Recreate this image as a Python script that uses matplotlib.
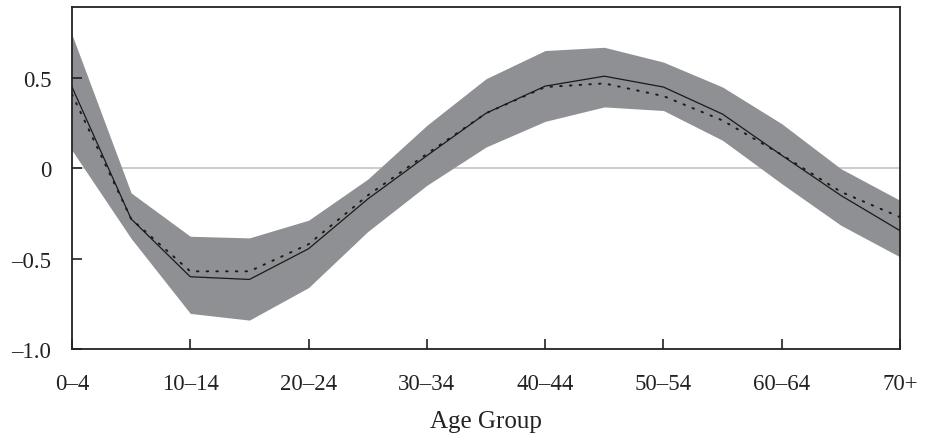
import matplotlib
matplotlib.use("Agg")
import matplotlib.pyplot as plt
import numpy as np

age_groups = ["0–4", "5–9", "10–14", "15–19", "20–24", "25–29", "30–34", "35–39",
              "40–44", "45–49", "50–54", "55–59", "60–64", "65–69", "70+"]
estimate = [0.45, -0.28, -0.60, -0.615, -0.445, -0.17, 0.07, 0.305,
            0.455, 0.51, 0.45, 0.30, 0.072, -0.15, -0.345]
alt_estimate = [0.41, -0.28, -0.57, -0.57, -0.42, -0.15, 0.08, 0.305,
                0.45, 0.47, 0.40, 0.265, 0.075, -0.13, -0.27]
band_upper = [0.74, -0.136, -0.376, -0.385, -0.287, -0.06, 0.238, 0.496,
              0.652, 0.67, 0.588, 0.45, 0.247, -0.002, -0.177]
band_lower = [0.10, -0.388, -0.803, -0.84, -0.66, -0.35, -0.094, 0.118,
              0.26, 0.34, 0.32, 0.155, -0.085, -0.315, -0.49]
y_ticks = [-1.0, -0.5, 0, 0.5]
y_tick_labels = ["–1.0", "–0.5", "0", "0.5"]

plt.rcParams.update({
    "font.family": ["Liberation Serif", "DejaVu Serif"],
    "font.size": 16,
})

fig = plt.figure(figsize=(9.29, 4.39), dpi=100)
ax = fig.add_axes([0.0775, 0.2027, 0.8913, 0.7791])

x = np.arange(len(age_groups))
ax.fill_between(x, band_lower, band_upper, color="#8f9093", linewidth=0, zorder=1)
ax.axhline(0, color="#c4c4c4", linewidth=1.2, zorder=0.5)
ax.plot(x, estimate, color="#1a1a1a", linewidth=0.9, zorder=3)
ax.plot(x, alt_estimate, color="#1a1a1a", linewidth=1.4, linestyle=(0, (0.8, 4.2)),
        dash_capstyle="round", zorder=3)

ax.set_xlim(0, len(age_groups) - 1)
ax.set_ylim(-1.0, 0.893)
ax.set_xticks(x[::2])
ax.set_xticklabels(age_groups[::2])
ax.set_yticks(y_ticks)
ax.set_yticklabels(y_tick_labels)
ax.tick_params(axis="both", direction="in", length=7, width=1.2, color="#222222",
               labelsize=16.5, labelcolor="#222222")
ax.tick_params(axis="x", pad=17)
ax.tick_params(axis="y", pad=15)
for s in ax.spines.values():
    s.set_linewidth(1.3)
    s.set_color("#222222")
ax.set_xlabel("Age Group", fontsize=18, color="#222222", labelpad=12)

fig.savefig("out.png", dpi=100)
